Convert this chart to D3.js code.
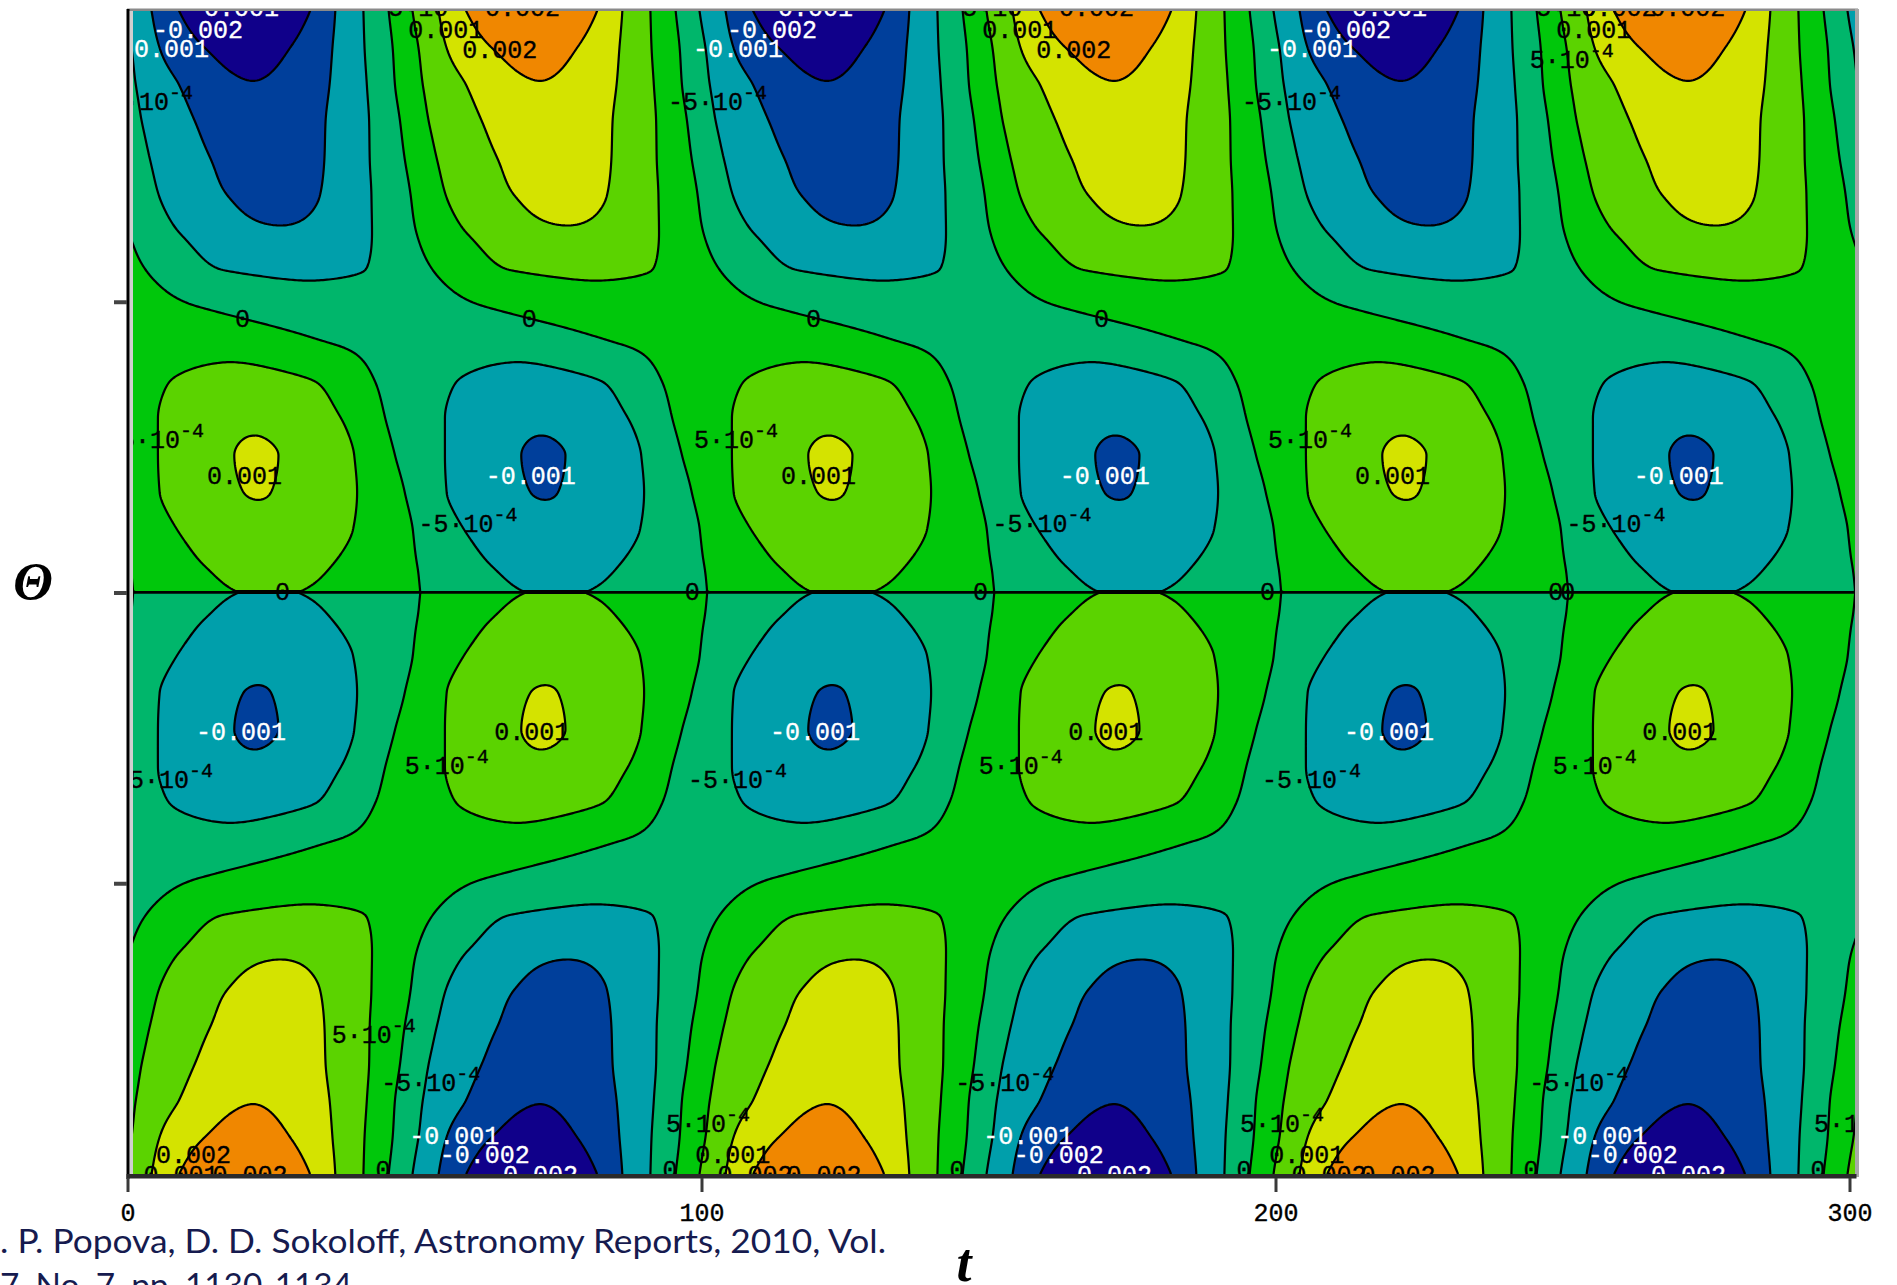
<!DOCTYPE html>
<html><head><meta charset="utf-8">
<script src="https://cdn.jsdelivr.net/npm/d3@7"></script>
<style>
html,body{margin:0;padding:0;background:#fff;}
svg{display:block;}
</style></head>
<body>
<svg id="chart" width="1897" height="1285"></svg>
<script>
// ---------------- DATA ----------------
// Field of the upper hemisphere, one row per colatitude theta (rad).
// Each row: knots [t, value] over half a period t in [0,50);
// the second half of the period is the negative of the first (B(t+50) = -B(t)),
// the period in t is 100, and the lower hemisphere is B(pi-theta) = -B(theta).
const rowTheta = [0, 0.1, 0.2, 0.3, 0.4, 0.5, 0.6, 0.7, 0.8, 0.9, 1.0, 1.1, 1.2, 1.3, 1.4, 1.5, Math.PI / 2];
const row00 = [[0,-0.00054],[4.2,-0.001],[9.0,-0.002],[20.4,-0.0038],[31.8,-0.002],[36.2,-0.001],[41.1,-0.0005],[45.5,0]];
const row01 = [[0,-0.00043],[0.7,-0.0005],[5.6,-0.001],[13.5,-0.002],[21,-0.0027],[28.3,-0.002],[35.7,-0.001],[41.3,-0.0005],[46.2,0]];
const row02 = [[0,-0.00035],[1.45,-0.0005],[9,-0.001],[22,-0.00195],[35.2,-0.001],[41.7,-0.0005],[46.6,0]];
const row03 = [[0,-0.00025],[2.5,-0.0005],[11.8,-0.001],[23,-0.0017],[34.5,-0.001],[42.1,-0.0005],[47.5,0]];
const row04 = [[0,-0.00015],[3.9,-0.0005],[14.5,-0.001],[24.5,-0.0015],[34.3,-0.001],[42.2,-0.0005],[48.3,0]];
const row05 = [[0,-0.00006],[5.5,-0.0005],[17.5,-0.001],[26,-0.0013],[33.5,-0.001],[42.5,-0.0005],[49.35,0]];
const row06 = [[0,0.00002],[0.35,0],[9.1,-0.0005],[27,-0.00092],[42.6,-0.0005]];
const row07 = [[0,0.00012],[3.2,0],[16.7,-0.0005],[30,-0.00058],[41.4,-0.0005]];
const row08 = [[0,0.0002],[12.6,0],[33,-0.0003]];
const row09 = [[0,0.0002],[17,0.00033],[35.9,0]];
const row10 = [[0,0.00024],[7.4,0.0005],[19,0.00066],[32.6,0.0005],[43.1,0]];
const row11 = [[0,0.00025],[5.3,0.0005],[21,0.00092],[37.2,0.0005],[44.9,0]];
const row12 = [[0,0.0002],[5.3,0.0005],[18.6,0.001],[22.5,0.00105],[26.3,0.001],[39.5,0.0005],[46.6,0]];
const row13 = [[0,0.00012],[5.6,0.0005],[22.6,0.001015],[40,0.0005],[48.3,0]];
const row14 = [[0,0.00002],[8.6,0.0005],[24,0.0009],[39.3,0.0005],[49.7,0]];
const row15 = [[0,-0.00002],[0.5,0],[13.5,0.0005],[25,0.0007],[35.5,0.0005]];
const row16 = [[0,-0.00005],[1,0],[19.4,0.0005],[25,0.00055],[29.7,0.0005]];

// contour levels
const levels = [-0.002, -0.001, -0.0005, 0, 0.0005, 0.001, 0.002];
// x-axis ticks
const xTicks = [0, 100, 200, 300];
const xTickLabels = ["0", "100", "200", "300"];
const yTicks = [Math.PI / 4, Math.PI / 2, 3 * Math.PI / 4];

// contour labels: level, t (left of text), theta (baseline)
const labelLevel = [
 -0.002,-0.001,-0.001,-0.0005,-0.0005,0.002,0.001,0.002,
 -0.002,-0.001,-0.001,-0.0005,-0.0005,0.002,0.001,0.002,
 -0.002,-0.001,-0.001,-0.0005,-0.0005,0.002,0.002,0.001,0.0005,
 0,0,0,0,
 0.001,-0.001,0.0005,-0.0005,-0.001,0.001,-0.0005,0.0005,
 0.001,-0.001,0.0005,-0.0005,-0.001,0.001,-0.0005,0.0005,
 0.001,-0.001,0.0005,-0.0005,-0.001,0.001,-0.0005,0.0005,
 0,0,0,0,0,0,
 -0.0005,-0.001,-0.002,-0.002,0,0,0.0005,
 -0.0005,-0.001,-0.002,-0.002,0,0,0.0005,
 -0.0005,-0.001,-0.002,-0.002,0,0,0.0005,
 0.0005,0.002,0.001,0.001,0.001,0.002,0.002,0.002,0.002,0.002
];
const labelT = [
 4.44,-1.48,10.7,-5.84,42.8,62.3,48.9,58.3,
 104.44,98.52,110.7,94.16,142.8,162.3,148.9,158.3,
 204.44,198.52,210.7,194.16,242.8,253.3,265.3,248.9,244.3,
 18.73,68.7,118.2,168.4,
 13.85,62.4,-1.31,50.7,11.93,63.9,-2.35,48.3,
 113.85,162.4,98.69,150.7,111.93,163.9,97.65,148.3,
 213.85,262.4,198.69,250.7,211.93,263.9,197.65,248.3,
 25.7,97.1,147.3,197.3,247.5,249.6,
 44.2,49.1,54.4,62.8,43.2,93.2,93.8,
 144.2,149.1,154.4,162.8,143.2,193.2,193.8,
 244.2,249.1,254.4,262.8,243.2,293.2,293.8,
 35.6,4.97,98.9,198.9,2.8,14.8,102.8,114.8,202.8,214.8
];
const labelTheta = [
 0.0729,0.1243,0.0135,0.2674,0.0135,0.0135,0.0729,0.127,
 0.0729,0.1243,0.0135,0.2674,0.0135,0.0135,0.0729,0.127,
 0.0729,0.1243,0.0135,0.2674,0.0135,0.0135,0.0135,0.0729,0.154,
 0.8536,0.8536,0.8536,0.8536,
 1.2777,1.2777,1.1805,1.4074,1.9692,1.9692,2.0988,2.0621,
 1.2777,1.2777,1.1805,1.4074,1.9692,1.9692,2.0988,2.0621,
 1.2777,1.2777,1.1805,1.4074,1.9692,1.9692,2.0988,2.0621,
 1.5913,1.5913,1.5913,1.5913,1.5913,1.5913,
 2.9177,3.0606,3.1112,3.1653,3.1518,3.1518,3.0268,
 2.9177,3.0606,3.1112,3.1653,3.1518,3.1518,3.0268,
 2.9177,3.0606,3.1112,3.1653,3.1518,3.1518,3.0268,
 2.788,3.1112,3.1112,3.1112,3.1653,3.1653,3.1653,3.1653,3.1653,3.1653
];

const citeLines = [". P. Popova, D. D. Sokoloff, Astronomy Reports, 2010, Vol.", "7, No. 7, pp. 1130-1134"];

// ---------------- RENDERING ----------------
const rows = [row00,row01,row02,row03,row04,row05,row06,row07,row08,row09,row10,row11,row12,row13,row14,row15,row16];
const bandColors = ["#10008a","#003f9b","#009fab","#00b66b","#00c70b","#5bd300","#d4e300","#f08700"];

const svg = d3.select("#chart");
const W = 1897, H = 1285;
const x = d3.scaleLinear().domain([0, 300]).range([127.5, 1849.5]);
const y = d3.scaleLinear().domain([0, Math.PI]).range([11, 1174]);
const fieldX0 = 133, fieldX1 = 1855, fieldY0 = 11, fieldY1 = 1174;

function makeSpline(xs, ys) {
  const n = xs.length, h = [], d = [], m = new Array(n).fill(0);
  for (let i = 0; i < n - 1; i++) { h[i] = xs[i+1] - xs[i]; d[i] = (ys[i+1] - ys[i]) / h[i]; }
  m[0] = d[0]; m[n-1] = d[n-2];
  for (let i = 1; i < n - 1; i++) {
    if (d[i-1] * d[i] <= 0) m[i] = 0;
    else { const w1 = 2*h[i] + h[i-1], w2 = h[i] + 2*h[i-1]; m[i] = (w1 + w2) / (w1 / d[i-1] + w2 / d[i]); }
  }
  return function (v) {
    if (v <= xs[0]) return ys[0];
    if (v >= xs[n-1]) return ys[n-1];
    let lo = 0, hi = n - 1;
    while (hi - lo > 1) { const mid = (lo + hi) >> 1; if (xs[mid] > v) hi = mid; else lo = mid; }
    const hh = xs[hi] - xs[lo], s = (v - xs[lo]) / hh, s2 = s*s, s3 = s2*s;
    return (2*s3 - 3*s2 + 1)*ys[lo] + (s3 - 2*s2 + s)*hh*m[lo] + (-2*s3 + 3*s2)*ys[hi] + (s3 - s2)*hh*m[hi];
  };
}
// periodic row splines
const rowSplines = rows.map(r => {
  const half = r.filter(k => k[0] < 50);
  const full = half.concat(half.map(k => [k[0] + 50, -k[1]]));
  full.sort((a, b) => a[0] - b[0]);
  const ext = full.slice(-3).map(k => [k[0] - 100, k[1]]).concat(full, full.slice(0, 3).map(k => [k[0] + 100, k[1]]));
  return makeSpline(ext.map(k => k[0]), ext.map(k => k[1]));
});

const step = 2;
const gx0 = fieldX0 - 2, gy0 = fieldY0 - 2;
const nx = Math.ceil((fieldX1 + 2 - gx0) / step) + 1;
const ny = Math.ceil((fieldY1 + 2 - gy0) / step) + 1;
const values = new Float64Array(nx * ny);
for (let i = 0; i < nx; i++) {
  const t = x.invert(gx0 + i * step);
  const tt = ((t % 100) + 100) % 100;
  const colVals = rowSplines.map(s => s(tt));
  const colSpline = makeSpline(rowTheta, colVals);
  for (let j = 0; j < ny; j++) {
    let th = y.invert(gy0 + j * step);
    th = Math.max(0, Math.min(Math.PI, th));
    values[j * nx + i] = th <= Math.PI / 2 ? colSpline(th) : -colSpline(Math.PI - th);
  }
}
const contours = d3.contours().size([nx, ny]).thresholds(levels)(values);
const path = d3.geoPath(d3.geoTransform({
  point: function (px, py) { this.stream.point(gx0 + (px - 0.5) * step, gy0 + (py - 0.5) * step); }
}));

svg.append("rect").attr("width", W).attr("height", H).attr("fill", "#fff");
const defs = svg.append("defs");
defs.append("clipPath").attr("id", "fieldClip").append("rect")
  .attr("x", fieldX0).attr("y", fieldY0).attr("width", fieldX1 - fieldX0).attr("height", fieldY1 - fieldY0);

const gField = svg.append("g").attr("clip-path", "url(#fieldClip)");
gField.append("rect").attr("x", fieldX0 - 5).attr("y", fieldY0 - 5)
  .attr("width", fieldX1 - fieldX0 + 10).attr("height", fieldY1 - fieldY0 + 10).attr("fill", bandColors[0]);
gField.selectAll("path.fill").data(contours).join("path").attr("class", "fill")
  .attr("d", path).attr("fill", (d, i) => bandColors[i + 1]).attr("stroke", "none");
gField.selectAll("path.line").data(contours).join("path").attr("class", "line")
  .attr("d", path).attr("fill", "none").attr("stroke", "#000").attr("stroke-width", 2.2)
  .attr("stroke-linejoin", "round");
gField.append("line").attr("x1", fieldX0).attr("x2", fieldX1)
  .attr("y1", y(Math.PI / 2)).attr("y2", y(Math.PI / 2)).attr("stroke", "#000").attr("stroke-width", 2.6);

// contour labels
const gLab = gField.append("g").attr("font-family", "'Liberation Mono', 'DejaVu Sans Mono', monospace").attr("font-size", 25);
labelLevel.forEach((lv, i) => {
  const col = lv <= -0.001 ? "#fff" : "#000";
  const txt = gLab.append("text").attr("x", x(labelT[i])).attr("y", y(labelTheta[i]))
    .attr("fill", col).attr("stroke", col).attr("stroke-width", 0.35);
  if (Math.abs(lv) === 0.0005) {
    txt.append("tspan").text(lv < 0 ? "-5·10" : "5·10");
    txt.append("tspan").attr("dy", -11).attr("font-size", 20).text("-4");
  } else if (lv === 0) {
    txt.text("0");
  } else {
    txt.text(lv.toFixed(3));
  }
});

// frame
svg.append("rect").attr("x", 127).attr("y", 8.5).attr("width", 1731).attr("height", 2.5).attr("fill", "#8a8a8a");
svg.append("rect").attr("x", 1855).attr("y", 9).attr("width", 4).attr("height", 1168).attr("fill", "#a8a8a8");
svg.append("rect").attr("x", 129.5).attr("y", 11).attr("width", 3.5).attr("height", 1163).attr("fill", "#cfcfcf");
svg.append("rect").attr("x", 126.5).attr("y", 9).attr("width", 3).attr("height", 1170).attr("fill", "#000");
svg.append("rect").attr("x", 126.5).attr("y", 1174).attr("width", 1730).attr("height", 4.5).attr("fill", "#2a2a2a");

// axes
const gx = svg.append("g").attr("transform", "translate(0,1178)")
  .call(d3.axisBottom(x).tickValues(xTicks).tickSize(14).tickFormat((d, i) => xTickLabels[i]));
gx.select(".domain").remove();
gx.selectAll(".tick line").attr("stroke", "#3a3a3a").attr("stroke-width", 3);
gx.selectAll(".tick text").attr("font-family", "'Liberation Mono', monospace").attr("font-size", 25)
  .attr("fill", "#000").attr("stroke", "#000").attr("stroke-width", 0.35).attr("dy", 0).attr("y", 43);

const gy = svg.append("g").attr("transform", "translate(127,0)")
  .call(d3.axisLeft(y).tickValues(yTicks).tickSize(13).tickFormat(""));
gy.select(".domain").remove();
gy.selectAll(".tick line").attr("stroke", "#444").attr("stroke-width", 4);

// axis titles
svg.append("text").attr("x", 33).attr("y", 599).attr("text-anchor", "middle")
  .attr("font-family", "'Liberation Serif', 'DejaVu Serif', serif").attr("font-weight", "bold")
  .attr("font-style", "italic").attr("font-size", 52).text("Θ");
svg.append("text").attr("x", 964).attr("y", 1281).attr("text-anchor", "middle")
  .attr("font-family", "'Liberation Serif', 'DejaVu Serif', serif").attr("font-weight", "bold")
  .attr("font-style", "italic").attr("font-size", 54).text("t");

// citation
svg.append("text").attr("x", 0).attr("y", 1253).attr("font-family", "Lato, 'Open Sans', sans-serif")
  .attr("font-size", 33).attr("fill", "#161b4f").attr("textLength", 886).attr("lengthAdjust", "spacingAndGlyphs")
  .text(citeLines[0]);
svg.append("text").attr("x", 0).attr("y", 1297).attr("font-family", "Lato, 'Open Sans', sans-serif")
  .attr("font-size", 33).attr("fill", "#161b4f").attr("textLength", 352).attr("lengthAdjust", "spacingAndGlyphs")
  .text(citeLines[1]);
</script>
</body></html>
